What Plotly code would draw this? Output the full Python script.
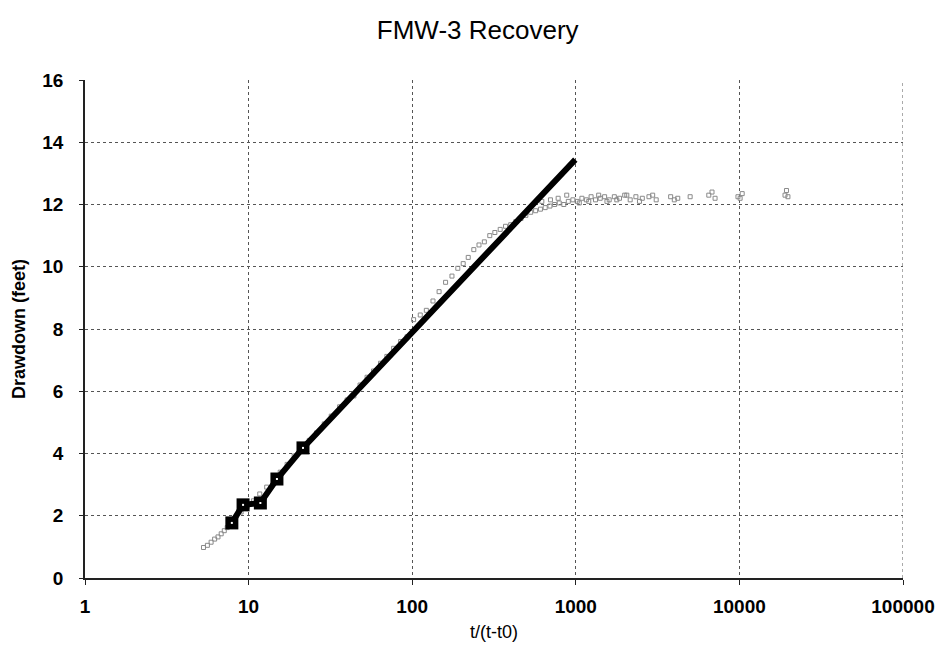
import plotly.graph_objects as go

# Measured recovery data: t/(t-t0) vs residual drawdown (feet)
ratio = [5.3, 5.6, 5.9, 6.2, 6.5, 6.8, 7.1, 7.4, 7.7, 8.3, 9.0, 9.8, 10.7, 11.7, 12.9,
         14.2, 15.6, 17.2, 19.0, 21.0, 23.5, 26, 29, 32, 36, 40, 44, 48, 53, 58, 64, 70,
         77, 85, 93, 102, 112, 122, 134, 146, 160, 175, 190, 205, 220, 238, 256, 276,
         298, 320, 345, 372, 400, 430, 462, 495, 530, 568, 608, 650, 695, 742, 792, 845,
         900, 960, 1020, 1090, 1160, 1240, 1320, 1410, 1500, 1600, 1720, 1850, 1990,
         2150, 2330, 2550, 2800, 3100, 3800, 4200, 5000, 6500, 7100, 9800, 10400,
         19000, 19800,
         620, 700, 780, 880, 1050, 1200, 1380, 1550, 1780, 2050, 2450, 2950, 4000, 6800,
         10100, 19400]
drawdown = [0.98, 1.05, 1.15, 1.25, 1.32, 1.42, 1.52, 1.62, 1.72, 1.92, 2.12, 2.3, 2.48,
            2.7, 2.92, 3.15, 3.4, 3.65, 3.92, 4.18, 4.42, 4.66, 4.95, 5.2, 5.5, 5.72,
            5.85, 6.2, 6.45, 6.65, 6.9, 7.12, 7.38, 7.6, 7.75, 8.3, 8.45, 8.6, 8.9, 9.2,
            9.5, 9.7, 9.95, 10.1, 10.3, 10.55, 10.7, 10.8, 11.0, 11.1, 11.2, 11.3, 11.35,
            11.45, 11.55, 11.65, 11.75, 11.8, 11.85, 11.9, 11.95, 12.0, 12.05, 12.0,
            12.1, 12.15, 12.1, 12.2, 12.15, 12.25, 12.15, 12.2, 12.25, 12.15, 12.25,
            12.2, 12.3, 12.15, 12.25, 12.2, 12.25, 12.15, 12.25, 12.2, 12.25, 12.3,
            12.2, 12.25, 12.35, 12.3, 12.25,
            12.1, 12.15, 12.2, 12.3, 12.05, 12.1, 12.3, 12.1, 12.15, 12.3, 12.1, 12.3,
            12.15, 12.4, 12.2, 12.45]

# Straight-line fit through early recovery points
fit_ratio = [7.9, 9.25, 11.8, 14.9, 21.5, 993]
fit_drawdown = [1.77, 2.35, 2.41, 3.18, 4.18, 13.44]
fit_marker_ratio = fit_ratio[:5]
fit_marker_drawdown = fit_drawdown[:5]

x_tickvals = [1, 10, 100, 1000, 10000, 100000]
x_ticktext = ["1", "10", "100", "1000", "10000", "100000"]
y_tickvals = [0, 2, 4, 6, 8, 10, 12, 14, 16]

FONT = "Liberation Sans, Arial, sans-serif"

fig = go.Figure()

fig.add_trace(go.Scatter(
    x=ratio, y=drawdown, mode="markers",
    marker=dict(symbol="square-open", size=4, color="#8a8a8a",
                line=dict(width=1, color="#8a8a8a")),
    showlegend=False,
))

fig.add_trace(go.Scatter(
    x=fit_ratio, y=fit_drawdown, mode="lines",
    line=dict(color="black", width=6),
    showlegend=False,
))

fig.add_trace(go.Scatter(
    x=fit_marker_ratio, y=fit_marker_drawdown, mode="markers",
    marker=dict(symbol="square", size=13, color="black"),
    showlegend=False,
))

fig.add_trace(go.Scatter(
    x=fit_marker_ratio, y=fit_marker_drawdown, mode="markers",
    marker=dict(symbol="square", size=2, color="white"),
    showlegend=False,
))

# dotted right-hand border at the last decade
fig.add_shape(type="line", xref="x", yref="paper", x0=100000, x1=100000, y0=0, y1=1,
              line=dict(color="#555", width=1, dash="dot"))

fig.update_layout(
    width=946, height=659,
    margin=dict(l=85, r=43, t=80, b=81),
    paper_bgcolor="white", plot_bgcolor="white",
    title=dict(text="FMW-3 Recovery", x=0.505, xref="container", xanchor="center",
               y=0.955, yanchor="middle",
               font=dict(family=FONT, size=26, color="black")),
    xaxis=dict(
        type="log", range=[0, 5],
        tickvals=x_tickvals, ticktext=x_ticktext,
        tickfont=dict(family=FONT, size=19, color="black", weight="bold"),
        showline=True, linecolor="#222", linewidth=1.5,
        ticks="outside", ticklen=5, tickcolor="#222",
        ticklabelstandoff=5,
        showgrid=True, gridcolor="#555", griddash="dot", gridwidth=1,
        zeroline=False,
        title=dict(text="t/(t-t0)", standoff=10,
                   font=dict(family=FONT, size=18, color="black")),
    ),
    yaxis=dict(
        range=[0, 16],
        tickvals=y_tickvals,
        tickfont=dict(family=FONT, size=19, color="black", weight="bold"),
        showline=True, linecolor="#222", linewidth=1.5,
        ticks="outside", ticklen=4, tickcolor="#222",
        ticklabelstandoff=12,
        showgrid=True, gridcolor="#555", griddash="dot", gridwidth=1,
        zeroline=False,
        title=dict(text="Drawdown (feet)", standoff=12,
                   font=dict(family=FONT, size=18, color="black", weight="bold")),
    ),
)

fig.write_html("out.html")
